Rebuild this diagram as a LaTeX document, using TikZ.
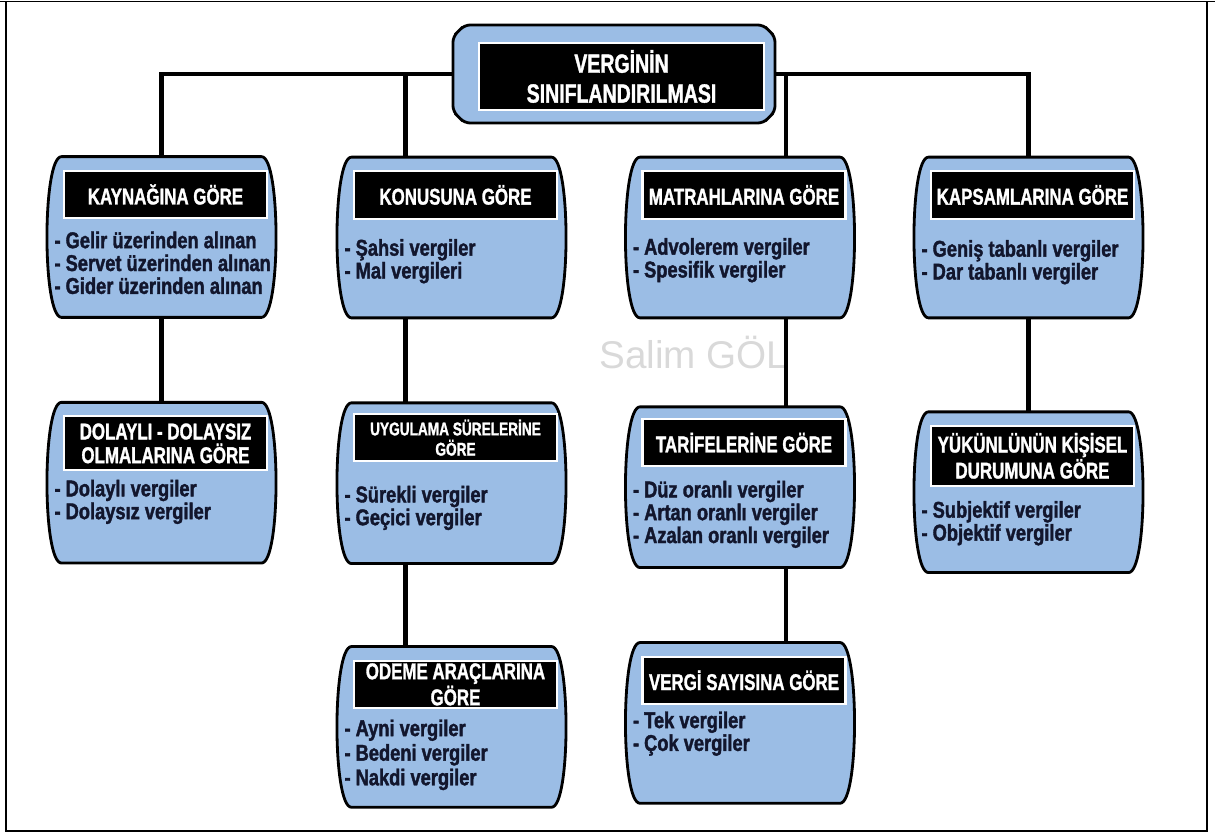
\documentclass[tikz,border=0pt]{standalone}
\usepackage{fontspec}
\setmainfont{Liberation Sans}
\newfontfamily\boxfont[UprightFont=* Bold, FakeBold=1.3, FakeStretch=0.74]{Liberation Sans}
\newfontfamily\itemfont[UprightFont=* Bold, FakeBold=1.6, FakeStretch=0.8]{Liberation Sans}
\usepackage{xcolor}
\usetikzlibrary{positioning}
\usetikzlibrary{shapes.misc}
\usetikzlibrary{backgrounds}
\definecolor{boxblue}{RGB}{155,189,229}
\definecolor{itemnavy}{RGB}{18,22,45}
\tikzset{
	taxbox/.style={minimum width=4.48cm, minimum height=3.2cm, inner sep=0pt},
	barrel/.style={draw, fill=boxblue, line width=1.6pt},
	heading/.style={fill=black, draw=white, line width=1.2pt, text=white, align=center,
		font=\boxfont\fontsize{13}{13.5}\selectfont, minimum width=4.06cm,
		minimum height=0.95cm, inner ysep=3pt, xshift=0.08cm},
	items/.style={anchor=north west, inner sep=0pt, align=left, text=itemnavy,
		font=\itemfont\fontsize{13}{13}\selectfont},
	link/.style={draw, line width=2.6pt}
}

\begin{document}
\begin{tikzpicture}
\useasboundingbox (0,0) rectangle (24.3,-16.68);
\draw[line width=0.6pt] (0,-0.03) -- (24.3,-0.03);
\draw[line width=1.5pt] (0.12,-0.03) -- (0.12,-16.62) -- (24.14,-16.62) -- (24.14,-0.03);

\node[chamfered rectangle, chamfered rectangle xsep=0.3cm, chamfered rectangle ysep=0.3cm,
	rounded corners=3pt, draw, fill=boxblue, line width=1.6pt,
	minimum width=6.44cm, minimum height=1.96cm] (top) at (12.28,-1.48) {};
\node[heading, xshift=0cm, minimum width=5.7cm, minimum height=1.34cm,
	font=\boxfont\fontsize{15}{17}\selectfont] (topH) at (12.35,-1.53)
	{VERGİNİN\\SINIFLANDIRILMASI};

\node[taxbox] (kaynak) at (3.23,-4.74) {};
\node[taxbox] (konu) at (9.03,-4.75) {};
\node[taxbox] (matrah) at (14.8,-4.75) {};
\node[taxbox] (kapsam) at (20.57,-4.75) {};
\node[taxbox, below = 1.7cm of kaynak] (dolayli) {};
\node[taxbox, below = 1.7cm of konu] (sure) {};
\node[taxbox, below = 1.66cm of sure] (odeme) {};
\node[taxbox, below = 1.78cm of matrah] (tarife) {};
\node[taxbox, below = 1.5cm of tarife] (sayi) {};
\node[taxbox, below = 1.88cm of kapsam] (kisisel) {};

\begin{scope}[on background layer]
\foreach \b in {kaynak,dolayli,konu,sure,odeme,matrah,tarife,sayi,kapsam,kisisel}
	\draw[barrel] ([xshift=7pt]\b.north west) -- ([xshift=-7pt]\b.north east)
		.. controls ([xshift=4pt]\b.north east) and ([xshift=4pt]\b.south east) .. ([xshift=-7pt]\b.south east)
		-- ([xshift=7pt]\b.south west)
		.. controls ([xshift=-4pt]\b.south west) and ([xshift=-4pt]\b.north west) .. cycle;
\end{scope}

\node[heading, below = 0.26cm of kaynak.north] (kaynakH) {KAYNAĞINA GÖRE};
\node[items] (kaynakL) at ([xshift=0.1cm,yshift=-0.24cm]kaynakH.south -| kaynak.west)
	{- Gelir üzerinden alınan\\- Servet üzerinden alınan\\- Gider üzerinden alınan};

\node[heading, inner ysep=4pt, below = 0.26cm of dolayli.north] (dolayliH) {DOLAYLI - DOLAYSIZ\\OLMALARINA GÖRE};
\node[items] (dolayliL) at ([xshift=0.1cm,yshift=-0.16cm]dolayliH.south -| dolayli.west)
	{- Dolaylı vergiler\\- Dolaysız vergiler};

\node[heading, below = 0.26cm of konu.north] (konuH) {KONUSUNA GÖRE};
\node[items] (konuL) at ([xshift=0.1cm,yshift=-0.38cm]konuH.south -| konu.west)
	{- Şahsi vergiler\\- Mal vergileri};

\node[heading, inner ysep=2pt, font=\boxfont\fontsize{10.5}{11.5}\selectfont,
	below = 0.2cm of sure.north] (sureH) {UYGULAMA SÜRELERİNE\\GÖRE};
\node[items] (sureL) at ([xshift=0.1cm,yshift=-0.46cm]sureH.south -| sure.west)
	{- Sürekli vergiler\\- Geçici vergiler};

\node[heading, inner ysep=1pt, font=\boxfont\fontsize{13}{12.5}\selectfont,
	below = 0.26cm of odeme.north] (odemeH) {ODEME ARAÇLARINA\\GÖRE};
\node[items, font=\itemfont\fontsize{13}{14}\selectfont] (odemeL)
	at ([xshift=0.1cm,yshift=-0.2cm]odemeH.south -| odeme.west)
	{- Ayni vergiler\\- Bedeni vergiler\\- Nakdi vergiler};

\node[heading, below = 0.26cm of matrah.north] (matrahH) {MATRAHLARINA GÖRE};
\node[items] (matrahL) at ([xshift=0.1cm,yshift=-0.36cm]matrahH.south -| matrah.west)
	{- Advolerem vergiler\\- Spesifik vergiler};

\node[heading, below = 0.22cm of tarife.north] (tarifeH) {TARİFELERİNE GÖRE};
\node[items] (tarifeL) at ([xshift=0.1cm,yshift=-0.26cm]tarifeH.south -| tarife.west)
	{- Düz oranlı vergiler\\- Artan oranlı vergiler\\- Azalan oranlı vergiler};

\node[heading, below = 0.26cm of sayi.north] (sayiH) {VERGİ SAYISINA GÖRE};
\node[items] (sayiL) at ([xshift=0.1cm,yshift=-0.12cm]sayiH.south -| sayi.west)
	{- Tek vergiler\\- Çok vergiler};

\node[heading, below = 0.26cm of kapsam.north] (kapsamH) {KAPSAMLARINA GÖRE};
\node[items] (kapsamL) at ([xshift=0.1cm,yshift=-0.4cm]kapsamH.south -| kapsam.west)
	{- Geniş tabanlı vergiler\\- Dar tabanlı vergiler};

\node[heading, inner ysep=4pt, below = 0.26cm of kisisel.north] (kisiselH) {YÜKÜNLÜNÜN KİŞİSEL\\DURUMUNA GÖRE};
\node[items] (kisiselL) at ([xshift=0.1cm,yshift=-0.28cm]kisiselH.south -| kisisel.west)
	{- Subjektif vergiler\\- Objektif vergiler};

\node[text=gray!30, font=\fontsize{22}{26}\selectfont] (mark) at (13.88,-7.06) {Salim GÖL};

\draw [link] (top.west) -| (kaynak.north);
\draw [link] ([xshift=-0.92cm]konu.north) -- ([xshift=-0.92cm]konu.north |- top.west);
\draw [link] (top.east) -| (kapsam.north);
\draw [link] ([xshift=0.92cm]matrah.north) -- ([xshift=0.92cm]matrah.north |- top.east);
\draw [link] (kaynak.south) -- (dolayli.north);
\draw [link] ([xshift=-0.92cm]konu.south) -- ([xshift=-0.92cm]sure.north);
\draw [link] ([xshift=-0.92cm]sure.south) -- ([xshift=-0.92cm]odeme.north);
\draw [link] ([xshift=0.92cm]matrah.south) -- ([xshift=0.92cm]tarife.north);
\draw [link] ([xshift=0.92cm]tarife.south) -- ([xshift=0.92cm]sayi.north);
\draw [link] (kapsam.south) -- (kisisel.north);

\end{tikzpicture}
\end{document}
